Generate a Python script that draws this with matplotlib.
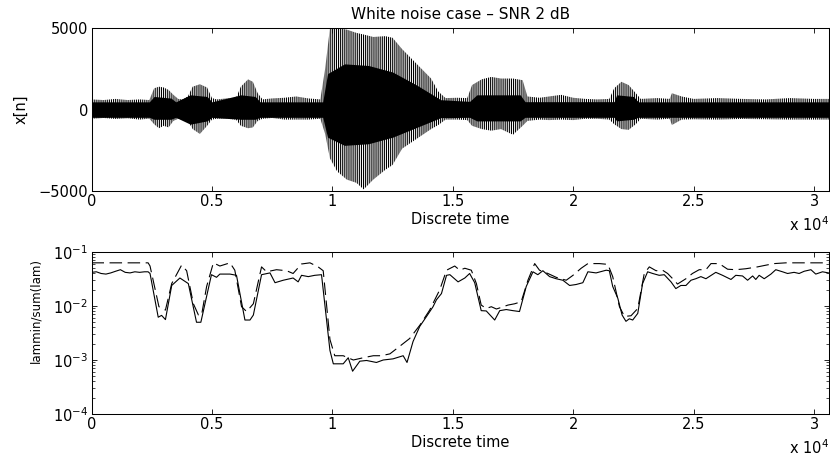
from __future__ import annotations

import matplotlib
matplotlib.use("Agg")
import matplotlib.pyplot as plt
from matplotlib.ticker import LogLocator, NullFormatter
import numpy as np

plt.rcParams["font.family"] = ["DejaVu Sans"]
plt.rcParams["hatch.linewidth"] = 0.8
plt.rcParams["lines.scale_dashes"] = False

SCALE = 1e4
X_MAX = 30620
FS = 10.5

# ---- top panel: waveform envelope (time in units of 1e4) ----
env_t = [0.00, 0.05, 0.10, 0.15, 0.20, 0.24, 0.26, 0.28, 0.30, 0.32, 0.34, 0.36, 0.38,
         0.40, 0.42, 0.45, 0.48, 0.50, 0.52, 0.56, 0.60, 0.62, 0.65, 0.67, 0.69, 0.71,
         0.75, 0.80, 0.85, 0.90, 0.95, 0.97, 0.99, 1.02, 1.06, 1.10, 1.13, 1.17, 1.22,
         1.25, 1.29, 1.33, 1.37, 1.41, 1.44, 1.47, 1.52, 1.56, 1.58, 1.62, 1.66, 1.70,
         1.75, 1.79, 1.81, 1.86, 1.90, 1.95, 2.00, 2.05, 2.10, 2.15, 2.17, 2.20, 2.23,
         2.26, 2.28, 2.35, 2.40, 2.41, 2.45, 2.50, 2.60, 2.70, 2.80, 2.90, 3.00, 3.062]
env_up = [620, 580, 650, 580, 620, 580, 1300, 1400, 1350, 1200, 900, 650, 620,
          800, 1400, 1550, 1350, 700, 620, 680, 700, 1400, 1850, 1700, 1000, 620,
          680, 720, 800, 680, 620, 2500, 5000, 5000, 4900, 4700, 4600, 4450, 4500,
          4400, 3700, 3100, 2500, 1900, 1100, 700, 720, 700, 1500, 1850, 2000, 1900,
          1900, 1800, 800, 720, 800, 900, 720, 650, 620, 650, 1300, 1700, 1500,
          1000, 650, 700, 650, 1000, 800, 650, 700, 650, 620, 700, 650, 650]
env_lo = [-570, -520, -580, -540, -620, -560, -900, -1150, -1000, -1100, -700, -570, -620,
          -700, -1200, -1500, -1000, -620, -570, -570, -620, -1000, -1150, -1100, -700, -570,
          -520, -620, -620, -620, -570, -1500, -3000, -3800, -4300, -4500, -4900, -4300, -3700,
          -3400, -2400, -2000, -1600, -1200, -950, -620, -620, -650, -1000, -1200, -1300, -1200,
          -1550, -1000, -700, -620, -650, -620, -650, -570, -570, -620, -900, -1200, -1250,
          -900, -570, -620, -570, -950, -620, -600, -620, -580, -600, -620, -620, -620]

core_t = [0.00, 0.24, 0.26, 0.33, 0.35, 0.41, 0.48, 0.50, 0.62, 0.68, 0.70, 0.96,
          0.98, 1.05, 1.15, 1.25, 1.35, 1.45, 1.57, 1.60, 1.78, 1.80, 2.17, 2.18,
          2.25, 2.27, 3.062]
core_up = [470, 470, 800, 700, 470, 900, 800, 470, 900, 800, 470, 470,
           2200, 2800, 2700, 2300, 1500, 600, 500, 900, 900, 480, 480, 900,
           800, 470, 470]
core_lo = [-480, -480, -600, -600, -480, -900, -700, -480, -600, -600, -480, -480,
           -1700, -2200, -2100, -1700, -1100, -500, -480, -700, -700, -480, -480, -700,
           -600, -480, -480]

# ---- bottom panel: lammin/sum(lam), solid and dashed curves ----
sol_t = [0.00, 0.02, 0.04, 0.06, 0.08, 0.10, 0.12, 0.14, 0.16, 0.18, 0.20, 0.22, 0.235,
         0.243, 0.277, 0.291, 0.307, 0.333, 0.367, 0.402, 0.436, 0.454,
         0.498, 0.519, 0.533, 0.575, 0.602, 0.637, 0.658, 0.672,
         0.706, 0.741, 0.762, 0.796, 0.824, 0.837, 0.858, 0.872, 0.900, 0.927, 0.955,
         0.990, 1.004, 1.045, 1.066, 1.084, 1.114, 1.142, 1.183, 1.211, 1.252, 1.294, 1.310, 1.335,
         1.363, 1.391, 1.418, 1.432, 1.453, 1.474, 1.488, 1.522, 1.550, 1.570, 1.591,
         1.618, 1.639, 1.674, 1.695, 1.722, 1.750, 1.777, 1.805,
         1.833, 1.853, 1.874, 1.902, 1.929, 1.957, 1.985, 2.012, 2.040, 2.061, 2.095,
         2.137, 2.150, 2.164, 2.185, 2.203, 2.219, 2.233, 2.247, 2.268, 2.288,
         2.309, 2.330, 2.357, 2.378, 2.406, 2.426, 2.447, 2.468, 2.489, 2.509, 2.530, 2.551,
         2.592, 2.620, 2.655, 2.675, 2.703, 2.724, 2.745, 2.758, 2.772, 2.793,
         2.821, 2.841, 2.869, 2.890, 2.917, 2.938, 2.959, 2.987, 3.007, 3.035, 3.060]
sol_y = [0.042, 0.043, 0.040, 0.039, 0.041, 0.044, 0.047, 0.042, 0.041, 0.043, 0.042, 0.043, 0.043,
         0.040, 0.0062, 0.0067, 0.0056, 0.024, 0.033, 0.026, 0.0050, 0.0050,
         0.038, 0.034, 0.039, 0.039, 0.037, 0.0055, 0.0055, 0.0068,
         0.038, 0.041, 0.027, 0.030, 0.032, 0.033, 0.028, 0.037, 0.035, 0.037, 0.038,
         0.0015, 0.00085, 0.00085, 0.0011, 0.00062, 0.00095, 0.00098, 0.0009, 0.0010, 0.00105, 0.0012, 0.0009, 0.0022,
         0.0042, 0.0064, 0.0097, 0.013, 0.017, 0.037, 0.038, 0.028, 0.033, 0.040, 0.027,
         0.0082, 0.0081, 0.0055, 0.0082, 0.0086, 0.0082, 0.0079, 0.023,
         0.043, 0.038, 0.045, 0.035, 0.032, 0.030, 0.024, 0.025, 0.027, 0.043, 0.041,
         0.046, 0.045, 0.023, 0.014, 0.0068, 0.0052, 0.0058, 0.0055, 0.0073, 0.026,
         0.043, 0.040, 0.037, 0.038, 0.028, 0.021, 0.024, 0.024, 0.030, 0.032, 0.035, 0.032,
         0.042, 0.037, 0.031, 0.037, 0.036, 0.030, 0.036, 0.031, 0.037, 0.032,
         0.039, 0.047, 0.043, 0.040, 0.042, 0.040, 0.044, 0.047, 0.039, 0.043, 0.041]

dash_t = [0.00, 0.235, 0.243, 0.280, 0.307, 0.333, 0.374, 0.395, 0.423, 0.444, 0.457, 0.478,
          0.506, 0.533, 0.575, 0.595, 0.623, 0.644, 0.672,
          0.706, 0.727, 0.768, 0.810, 0.837, 0.872, 0.907, 0.941, 0.962,
          0.990, 1.010, 1.045, 1.087, 1.128, 1.170, 1.204, 1.239, 1.280, 1.321,
          1.363, 1.404, 1.446, 1.474, 1.508, 1.529, 1.550, 1.577, 1.598,
          1.618, 1.639, 1.660, 1.681, 1.701, 1.729, 1.757, 1.784, 1.812,
          1.840, 1.860, 1.895, 1.929, 1.971, 1.999, 2.033, 2.061, 2.109, 2.144,
          2.164, 2.192, 2.213, 2.240, 2.268, 2.295, 2.316, 2.344, 2.371, 2.392,
          2.413, 2.433, 2.468, 2.495, 2.523, 2.551, 2.572, 2.606, 2.641,
          2.675, 2.717, 2.765, 2.800, 2.834, 2.883, 3.060]
dash_y = [0.063, 0.063, 0.055, 0.0097, 0.0084, 0.026, 0.057, 0.045, 0.011, 0.0068, 0.0068, 0.023,
          0.063, 0.055, 0.063, 0.046, 0.0097, 0.0079, 0.011,
          0.053, 0.043, 0.047, 0.045, 0.040, 0.060, 0.063, 0.053, 0.045,
          0.0024, 0.0012, 0.0012, 0.0010, 0.0011, 0.0012, 0.0012, 0.0013, 0.0018, 0.0025,
          0.0044, 0.0084, 0.020, 0.046, 0.055, 0.046, 0.050, 0.046, 0.026,
          0.0104, 0.0090, 0.0097, 0.0088, 0.0094, 0.0104, 0.011, 0.012, 0.030,
          0.061, 0.046, 0.040, 0.034, 0.030, 0.037, 0.050, 0.061, 0.061, 0.059,
          0.035, 0.0097, 0.0064, 0.0066, 0.0090, 0.040, 0.053, 0.045, 0.046, 0.040,
          0.032, 0.0255, 0.032, 0.040, 0.047, 0.047, 0.061, 0.061, 0.048,
          0.047, 0.049, 0.053, 0.057, 0.061, 0.063, 0.063]

x_ticks = [0, 0.5, 1, 1.5, 2, 2.5, 3]
x_ticklabels = ["0", "0.5", "1", "1.5", "2", "2.5", "3"]


def style_axes(ax):
    for s in ax.spines.values():
        s.set_linewidth(0.75)
    ax.tick_params(direction="in", top=True, right=True, length=3.5, width=0.6,
                   labelsize=FS, pad=2.5)
    ax.set_xlim(0, X_MAX)
    ax.set_xticks([v * SCALE for v in x_ticks])
    ax.set_xticklabels(x_ticklabels)
    ax.set_xlabel("Discrete time", fontsize=FS)
    ax.xaxis.set_label_coords(0.5, -0.128)
    ax.text(1.0, -0.205, r"x 10$^4$", transform=ax.transAxes, ha="right", va="center",
            fontsize=FS)


fig = plt.figure(figsize=(8.3, 4.57), dpi=100)
W, H = 830, 457
ax1 = fig.add_axes([91.5 / W, 1 - 191 / H, (829 - 91.5) / W, 163 / H])
ax2 = fig.add_axes([91.5 / W, 1 - 414 / H, (829 - 91.5) / W, 162 / H])

# waveform: spiky outer envelope (hatched) plus dense core
et = np.array(env_t) * SCALE
ax1.fill_between(et, env_lo, env_up, facecolor="white", edgecolor="black",
                 hatch="|" * 8, linewidth=0)
ax1.fill_between(np.array(core_t) * SCALE, core_lo, core_up, color="black", linewidth=0)
ax1.set_ylim(-5000, 5000)
ax1.set_yticks([-5000, 0, 5000])
ax1.set_ylabel("x[n]", fontsize=FS)
ax1.yaxis.set_label_coords(-0.086, 0.5)
ax1.set_title("White noise case \u2013 SNR 2 dB", fontsize=11, pad=6.5)
style_axes(ax1)

ax2.plot(np.array(sol_t) * SCALE, sol_y, color="black", linewidth=0.8)
ax2.plot(np.array(dash_t) * SCALE, dash_y, color="black", linewidth=0.8,
         linestyle=(0, (9, 4)))
ax2.set_yscale("log")
ax2.set_ylim(1e-4, 1e-1)
ax2.set_yticks([1e-4, 1e-3, 1e-2, 1e-1])
ax2.yaxis.set_minor_locator(LogLocator(base=10, subs=np.arange(2, 10)))
ax2.yaxis.set_minor_formatter(NullFormatter())
ax2.tick_params(which="minor", direction="in", length=2, width=0.5, right=True)
ax2.set_ylabel("lammin/sum(lam)", fontsize=8.5)
ax2.yaxis.set_label_coords(-0.066, 0.636)
style_axes(ax2)

fig.savefig("out.png", dpi=100, facecolor="white")
